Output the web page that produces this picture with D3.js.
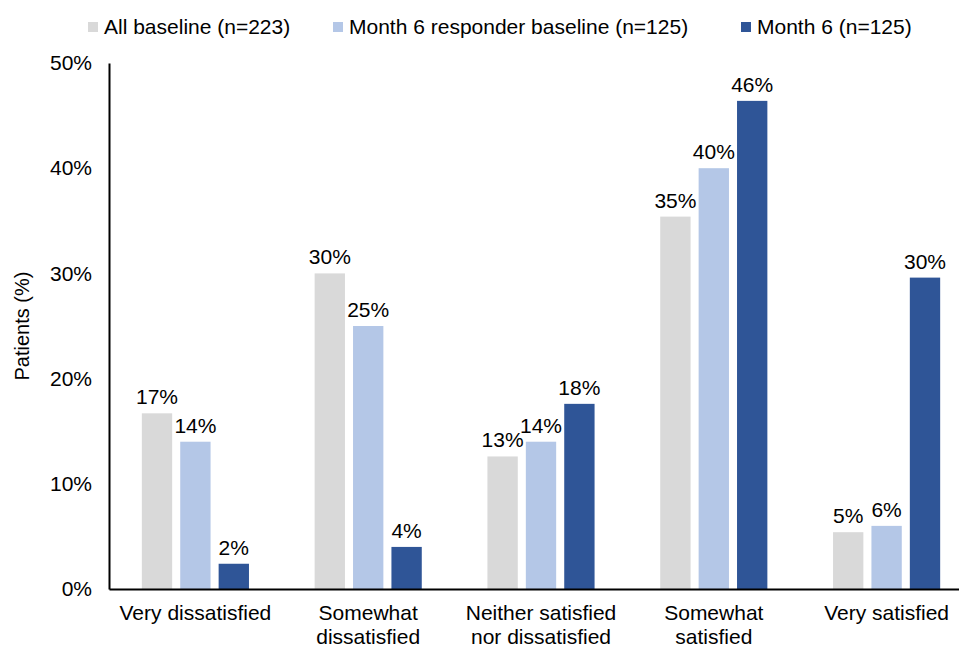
<!DOCTYPE html>
<html>
<head>
<meta charset="utf-8">
<script src="https://cdn.jsdelivr.net/npm/d3@7"></script>
<style>
  body { margin: 0; background: #fff; }
  svg { font-family: "Liberation Sans", Arial, sans-serif; display: block; }
</style>
</head>
<body>
<div id="chart"></div>
<script>
// categories on the x axis (lines for wrapped labels)
var categories = ["Very dissatisfied", "Somewhat dissatisfied", "Neither satisfied nor dissatisfied", "Somewhat satisfied", "Very satisfied"];
var categoryLines = [["Very dissatisfied"], ["Somewhat", "dissatisfied"], ["Neither satisfied", "nor dissatisfied"], ["Somewhat", "satisfied"], ["Very satisfied"]];

var seriesNames = ["All baseline (n=223)", "Month 6 responder baseline (n=125)", "Month 6 (n=125)"];
var seriesColors = ["#d9d9d9", "#b4c7e7", "#2f5597"];

// values in percent
var allBaseline = [16.7, 30.0, 12.6, 35.4, 5.4];
var responderBaseline = [14.0, 25.0, 14.0, 40.0, 6.0];
var month6 = [2.4, 4.0, 17.6, 46.4, 29.6];

var yTicks = [0, 10, 20, 30, 40, 50];

var width = 959, height = 648;
var margin = { top: 63, right: -14, bottom: 59, left: 109 };

var svg = d3.select('#chart').append('svg')
  .attr('width', width)
  .attr('height', height);

var seriesValues = [allBaseline, responderBaseline, month6];
var rows = categories.map(function(c, i) {
  return { cat: c, vals: seriesValues.map(function(s) { return s[i]; }) };
});

var x0 = d3.scaleBand()
  .domain(categories)
  .range([margin.left, width - margin.right])
  .paddingInner(0.38)
  .paddingOuter(0.19);

var x1 = d3.scaleBand()
  .domain(d3.range(seriesNames.length))
  .range([0, x0.bandwidth()])
  .paddingInner(0.21);

var y = d3.scaleLinear()
  .domain([0, 50])
  .range([height - margin.bottom, margin.top]);

// y axis
var yAxis = svg.append('g')
  .attr('transform', 'translate(' + margin.left + ',0)')
  .call(d3.axisLeft(y).tickValues(yTicks).tickSize(0).tickPadding(17)
    .tickFormat(function(d) { return d + '%'; }));
yAxis.select('.domain').attr('stroke', '#000').attr('stroke-width', 2);
yAxis.selectAll('.tick text')
  .style('font-size', '21px')
  .attr('fill', '#000')
  .attr('font-family', null);

// y axis title
svg.append('text')
  .attr('transform', 'translate(29,' + ((margin.top + height - margin.bottom) / 2) + ') rotate(-90)')
  .attr('text-anchor', 'middle')
  .style('font-size', '20px')
  .text('Patients (%)');

// bars
var groups = svg.selectAll('.group')
  .data(rows)
  .enter().append('g')
  .attr('class', 'group')
  .attr('transform', function(d) { return 'translate(' + x0(d.cat) + ',0)'; });

groups.selectAll('rect')
  .data(function(d) { return d.vals; })
  .enter().append('rect')
  .attr('x', function(d, i) { return x1(i); })
  .attr('y', function(d) { return y(d); })
  .attr('width', x1.bandwidth())
  .attr('height', function(d) { return y(0) - y(d); })
  .attr('fill', function(d, i) { return seriesColors[i]; });

groups.selectAll('.lbl')
  .data(function(d) { return d.vals; })
  .enter().append('text')
  .attr('class', 'lbl')
  .attr('x', function(d, i) { return x1(i) + x1.bandwidth() / 2; })
  .attr('y', function(d) { return y(d) - 9; })
  .attr('text-anchor', 'middle')
  .style('font-size', '21px')
  .text(function(d) { return Math.round(d) + '%'; });

// x axis
var xAxis = svg.append('g')
  .attr('transform', 'translate(0,' + y(0) + ')')
  .call(d3.axisBottom(x0).tickSize(0).tickFormat(''));
xAxis.select('.domain').attr('stroke', '#000').attr('stroke-width', 2);

var catLabels = svg.selectAll('.cat')
  .data(categories)
  .enter().append('text')
  .attr('class', 'cat')
  .attr('text-anchor', 'middle')
  .style('font-size', '21px')
  .attr('transform', function(d) { return 'translate(' + (x0(d) + x0.bandwidth() / 2) + ',' + (y(0) + 31) + ')'; });

catLabels.selectAll('tspan')
  .data(function(d, i) { return categoryLines[i]; })
  .enter().append('tspan')
  .attr('x', 0)
  .attr('y', function(d, i) { return i * 24; })
  .text(function(d) { return d; });

// legend
var legendX = [88, 333, 741];
var legend = svg.selectAll('.legend')
  .data(seriesNames)
  .enter().append('g')
  .attr('class', 'legend')
  .attr('transform', function(d, i) { return 'translate(' + legendX[i] + ',22)'; });

legend.append('rect')
  .attr('width', 10)
  .attr('height', 10)
  .attr('fill', function(d, i) { return seriesColors[i]; });

legend.append('text')
  .attr('x', 16)
  .attr('y', 12)
  .style('font-size', '21px')
  .text(function(d) { return d; });
</script>
</body>
</html>
